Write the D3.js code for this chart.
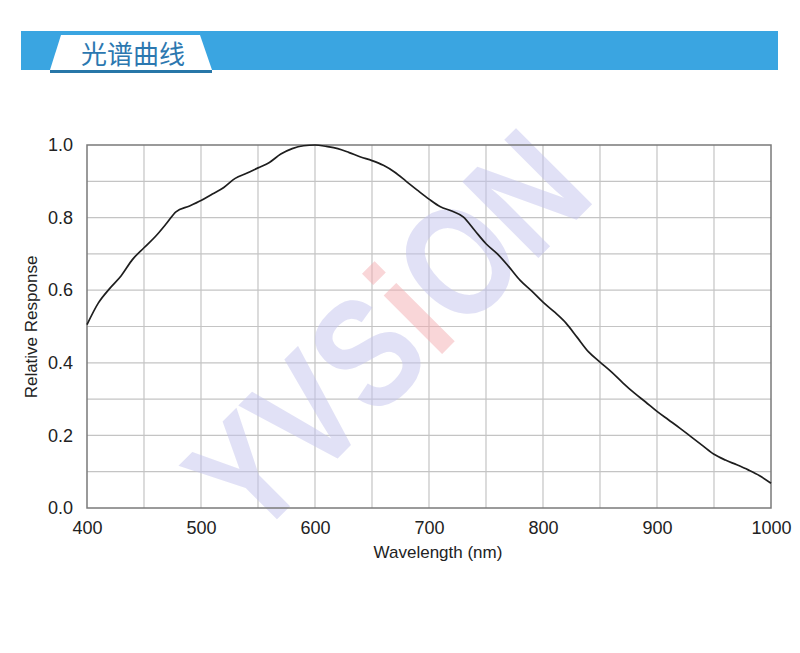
<!DOCTYPE html>
<html><head><meta charset="utf-8">
<script src="https://cdn.jsdelivr.net/npm/d3@7"></script>
<style>body{margin:0;background:#fff}svg{display:block}</style>
</head><body>
<script>
const wavelengths = [400,410,420,430,440,450,460,470,478,490,500,510,520,530,540,550,560,570,580,590,600,610,620,630,640,650,660,670,680,690,700,710,720,730,740,750,760,770,780,790,800,810,820,830,840,850,860,870,880,890,900,910,920,930,940,950,960,970,980,990,1000];
const response = [0.505,0.565,0.605,0.640,0.685,0.717,0.748,0.785,0.816,0.832,0.847,0.865,0.883,0.908,0.922,0.937,0.952,0.975,0.990,0.998,1.0,0.996,0.990,0.979,0.967,0.957,0.944,0.925,0.900,0.875,0.851,0.830,0.818,0.802,0.765,0.728,0.700,0.665,0.627,0.598,0.567,0.540,0.510,0.470,0.430,0.402,0.375,0.345,0.317,0.292,0.266,0.243,0.220,0.196,0.172,0.148,0.132,0.119,0.105,0.089,0.068];
const xTicks = [400,500,600,700,800,900,1000];
const yTicks = [0.0,0.2,0.4,0.6,0.8,1.0];
const title = "光谱曲线";
const xLabel = "Wavelength (nm)";
const yLabel = "Relative Response";

const W=800,H=653;
const svg=d3.select("body").append("svg").attr("width",W).attr("height",H);
const FONT="'Liberation Sans',Arial,sans-serif";

// header
svg.append("rect").attr("x",21).attr("y",31).attr("width",757).attr("height",39).attr("fill","#3aa5e1");
svg.append("path").attr("d","M50,70 L212,70 L212,73 L50,73 Z").attr("fill","#2877a8");
svg.append("path").attr("d","M61,35 L200,35 L212,70 L50,70 Z").attr("fill","#fff");
svg.append("text").attr("x",133).attr("y",64).attr("text-anchor","middle")
  .attr("font-family","'Noto Sans CJK SC',sans-serif").attr("font-size",26).attr("fill","#2c78b0").text(title);

const L=87,R=771,T=145,B=508;
const x=d3.scaleLinear().domain([400,1000]).range([L,R]);
const y=d3.scaleLinear().domain([0,1]).range([B,T]);

// grid
const g=svg.append("g");
g.selectAll("line.v").data(d3.range(450,1000,50)).join("line")
  .attr("x1",d=>x(d)).attr("x2",d=>x(d)).attr("y1",T).attr("y2",B)
  .attr("stroke","#c4c4c4").attr("stroke-width",1.2);
g.selectAll("line.h").data(d3.range(1,10).map(i=>i/10)).join("line")
  .attr("y1",d=>y(d)).attr("y2",d=>y(d)).attr("x1",L).attr("x2",R)
  .attr("stroke","#c4c4c4").attr("stroke-width",1.2);

// watermark
const wm=svg.append("text").attr("transform","translate(387,332) rotate(-45) scale(0.95,1.15)")
  .attr("text-anchor","middle").attr("dominant-baseline","central")
  .attr("font-family",FONT).attr("font-weight","bold")
  .attr("font-size",136).attr("opacity",0.5);
wm.append("tspan").attr("fill","#c4c4ee").text("YVS");
wm.append("tspan").attr("fill","#f4aeb2").text("i");
wm.append("tspan").attr("fill","#c4c4ee").text("ON");

// border
svg.append("rect").attr("x",L).attr("y",T).attr("width",R-L).attr("height",B-T)
  .attr("fill","none").attr("stroke","#7a7a7a").attr("stroke-width",1.5);

// curve
const line=d3.line().x((d,i)=>x(wavelengths[i])).y(d=>y(d)).curve(d3.curveMonotoneX);
svg.append("path").datum(response).attr("d",line).attr("fill","none").attr("stroke","#1e1e1e").attr("stroke-width",1.7);

// axes
const xa=svg.append("g").attr("transform",`translate(0,${B})`)
  .call(d3.axisBottom(x).tickValues(xTicks).tickSize(0).tickPadding(13).tickFormat(d3.format("d")));
xa.select(".domain").remove();
const ya=svg.append("g").attr("transform",`translate(${L},0)`)
  .call(d3.axisLeft(y).tickValues(yTicks).tickSize(0).tickPadding(14).tickFormat(d3.format(".1f")));
ya.select(".domain").remove();
svg.selectAll(".tick text").attr("font-family",FONT).attr("font-size",18).attr("fill","#222");

svg.append("text").attr("x",438).attr("y",558).attr("text-anchor","middle")
  .attr("font-family",FONT).attr("font-size",17).attr("fill","#222").text(xLabel);
svg.append("text").attr("transform","translate(37,327) rotate(-90)").attr("text-anchor","middle")
  .attr("font-family",FONT).attr("font-size",17).attr("fill","#222").text(yLabel);
</script>
</body></html>
